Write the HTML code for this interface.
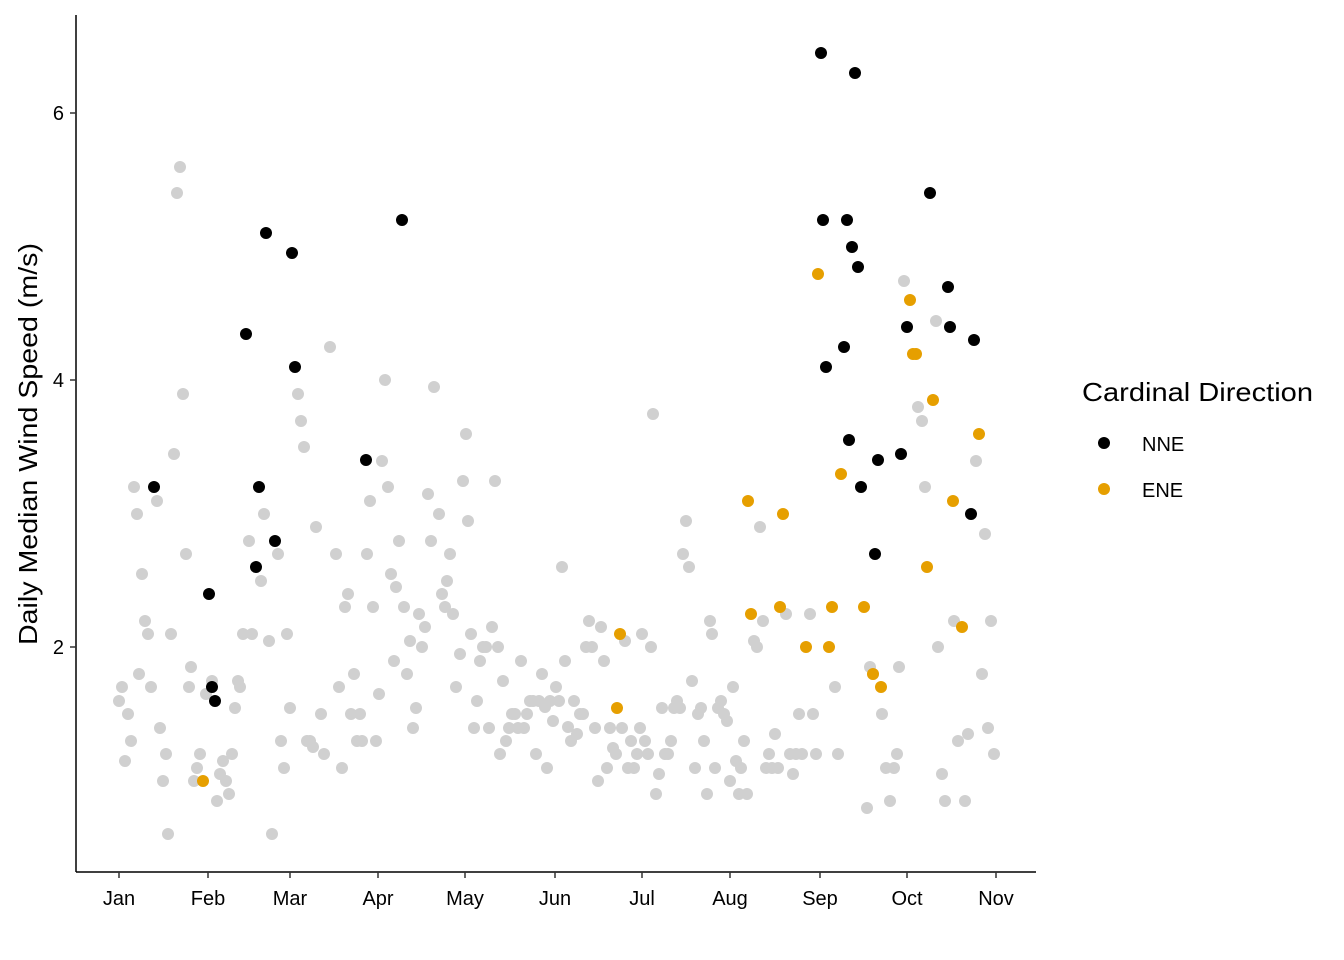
<!DOCTYPE html>
<html><head><meta charset="utf-8">
<style>
html,body{margin:0;padding:0;background:#fff;}
svg{display:block;font-family:"Liberation Sans",Arial,sans-serif;}
</style></head>
<body>
<svg id="s" width="1344" height="960" viewBox="0 0 1344 960" xmlns="http://www.w3.org/2000/svg">
<rect width="1344" height="960" fill="#fff"/>
<g id="pts"></g>
<line x1="76" y1="15" x2="76" y2="872" stroke="#000" stroke-width="1.5"/>
<line x1="76" y1="872" x2="1036" y2="872" stroke="#000" stroke-width="1.5"/>
<g stroke="#333" stroke-width="1.5">
<line x1="70" y1="113" x2="76" y2="113"/><line x1="70" y1="380" x2="76" y2="380"/><line x1="70" y1="647" x2="76" y2="647"/>
<line x1="119" y1="872" x2="119" y2="878"/><line x1="208" y1="872" x2="208" y2="878"/><line x1="290" y1="872" x2="290" y2="878"/><line x1="378" y1="872" x2="378" y2="878"/><line x1="465" y1="872" x2="465" y2="878"/><line x1="555" y1="872" x2="555" y2="878"/><line x1="642" y1="872" x2="642" y2="878"/><line x1="730" y1="872" x2="730" y2="878"/><line x1="820" y1="872" x2="820" y2="878"/><line x1="907" y1="872" x2="907" y2="878"/><line x1="996" y1="872" x2="996" y2="878"/>
</g>
<g font-size="20" fill="#000" text-anchor="end">
<text x="64" y="120">6</text><text x="64" y="387">4</text><text x="64" y="654">2</text>
</g>
<g font-size="20" fill="#000" text-anchor="middle">
<text x="119" y="905">Jan</text><text x="208" y="905">Feb</text><text x="290" y="905">Mar</text><text x="378" y="905">Apr</text><text x="465" y="905">May</text><text x="555" y="905">Jun</text><text x="642" y="905">Jul</text><text x="730" y="905">Aug</text><text x="820" y="905">Sep</text><text x="907" y="905">Oct</text><text x="996" y="905">Nov</text>
</g>
<text x="37" y="444" font-size="26" text-anchor="middle" textLength="402" lengthAdjust="spacingAndGlyphs" transform="rotate(-90 37 444)">Daily Median Wind Speed (m/s)</text>
<text x="1082" y="401" font-size="26" textLength="231" lengthAdjust="spacingAndGlyphs">Cardinal Direction</text>
<circle cx="1104" cy="443" r="6" fill="#000"/>
<text x="1142" y="451" font-size="20">NNE</text>
<circle cx="1104" cy="489" r="6" fill="#E69F00"/>
<text x="1142" y="497" font-size="20">ENE</text>
</svg>
<script>
var grey=[119,701,122,687,125,761,128,714,131,741,134,487,137,514,139,674,142,574,145,621,148,634,151,687,157,501,160,728,163,781,166,754,168,834,171,634,174,454,177,193,180,167,183,394,186,554,189,687,191,667,194,781,197,768,200,754,206,694,212,681,217,801,220,774,223,761,226,781,229,794,232,754,235,708,238,681,240,687,243,634,249,541,252,634,261,581,264,514,269,641,272,834,278,554,281,741,284,768,287,634,290,708,298,394,301,421,304,447,307,741,310,741,313,747,316,527,321,714,324,754,330,347,336,554,339,687,342,768,345,607,348,594,351,714,354,674,357,741,360,714,362,741,367,554,370,501,373,607,376,741,379,694,382,461,385,380,388,487,391,574,394,661,396,587,399,541,404,607,407,674,410,641,413,728,416,708,419,614,422,647,425,627,428,494,431,541,434,387,439,514,442,594,445,607,447,581,450,554,453,614,456,687,460,654,463,481,466,434,468,521,471,634,474,728,477,701,480,661,483,647,486,647,489,728,492,627,495,481,498,647,500,754,503,681,506,741,509,728,512,714,515,714,518,728,521,661,524,728,527,714,530,701,533,701,536,754,539,701,542,674,545,707,547,768,550,701,553,721,556,687,559,701,562,567,565,661,568,727,571,741,574,701,577,734,580,714,583,714,586,647,589,621,592,647,595,728,598,781,601,627,604,661,607,768,610,728,613,748,616,754,622,728,625,641,628,768,631,741,634,768,637,754,640,728,642,634,645,741,648,754,651,647,653,414,656,794,659,774,662,708,665,754,668,754,671,741,674,708,677,701,680,708,683,554,686,521,689,567,692,681,695,768,698,714,701,708,704,741,707,794,710,621,712,634,715,768,718,708,721,701,724,714,727,721,730,781,733,687,736,761,739,794,741,768,744,741,747,794,754,641,757,647,760,527,763,621,766,768,769,754,772,768,775,734,778,768,786,614,790,754,793,774,796,754,799,714,802,754,810,614,813,714,816,754,835,687,838,754,867,808,870,667,873,674,882,714,886,768,890,801,894,768,897,754,899,667,904,281,918,407,922,421,925,487,938,647,936,321,942,774,945,801,954,621,958,741,965,801,968,734,976,461,982,674,985,534,988,728,991,621,994,754];
var black=[154,487,209,594,212,687,215,701,246,334,256,567,259,487,266,233,275,541,292,253,295,367,366,460,402,220,821,53,823,220,826,367,844,347,847,220,849,440,852,247,855,73,858,267,861,487,875,554,878,460,901,454,907,327,930,193,948,287,950,327,971,514,974,340];
var orange=[203,781,617,708,620,634,748,501,751,614,783,514,780,607,806,647,818,274,829,647,832,607,841,474,864,607,873,674,881,687,910,300,913,354,916,354,927,567,933,400,953,501,962,627,979,434];
var g=document.getElementById('pts'),h='';
function add(a,c){for(var i=0;i<a.length;i+=2)h+='<circle cx="'+a[i]+'" cy="'+a[i+1]+'" r="6" fill="'+c+'"/>';}
add(grey,'#d0d0d0');add(orange,'#E69F00');add(black,'#000');
g.innerHTML=h;
</script>
</body></html>
